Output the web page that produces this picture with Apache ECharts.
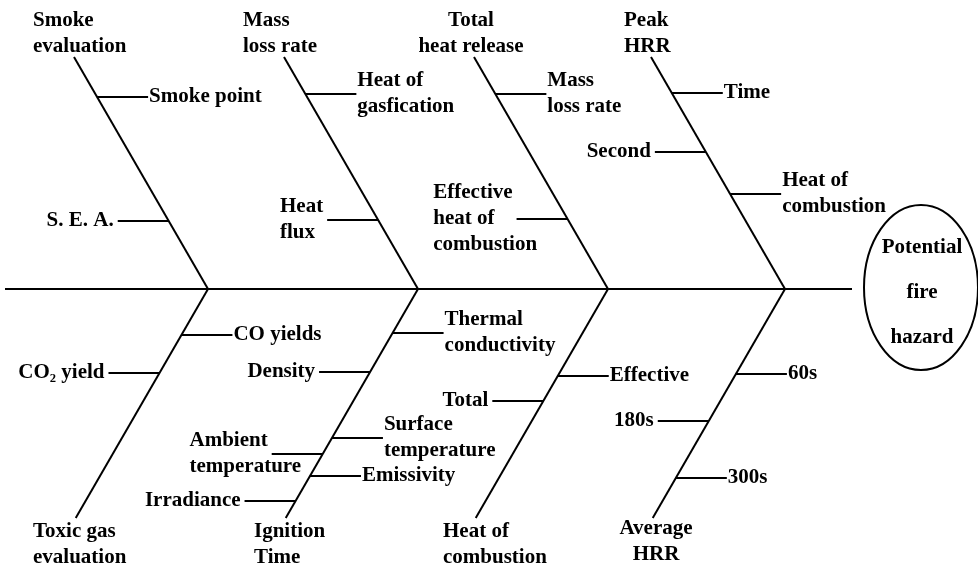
<!DOCTYPE html>
<html>
<head>
<meta charset="utf-8">
<title>Potential fire hazard</title>
<script src="https://cdn.jsdelivr.net/npm/echarts@6/dist/echarts.min.js"></script>
<style>
  html, body { margin: 0; padding: 0; background: #fff; }
  #main { width: 978px; height: 568px; }
</style>
</head>
<body>
<div id="main"></div>
<script>
// fishbone layout, in canvas units (y grows downward)
const spineY = 289
const spineEnds = [5, 852]
const joints = [208, 418, 608, 785]
const tipTopY = 57
const tipBottomY = 518
const slope = 0.5776 // dx per dy of every bone
const twigLength = 51

// main causes at the bone tips
const headsTop = [
  { text: 'Smoke\nevaluation', x: 33, y: 34, align: 'left' },
  { text: 'Mass\nloss rate', x: 243, y: 34, align: 'left' },
  { text: 'Total\nheat release', x: 471, y: 34, align: 'center' },
  { text: 'Peak\nHRR', x: 624, y: 34, align: 'left' }
]
const headsBottom = [
  { text: 'Toxic gas\nevaluation', x: 33, y: 545, align: 'left' },
  { text: 'Ignition\nTime', x: 254, y: 545, align: 'left' },
  { text: 'Heat of\ncombustion', x: 443, y: 545, align: 'left' },
  { text: 'Average\nHRR', x: 656, y: 542, align: 'center' }
]

// sub causes: [label, bone, level y, side of bone]
const causesTop = [
  ['Smoke point', 0, 97, 'right'],
  ['S. E. A.', 0, 221, 'left'],
  ['Heat of\ngasfication', 1, 94, 'right'],
  ['Heat\nflux', 1, 220, 'left'],
  ['Mass\nloss rate', 2, 94, 'right'],
  ['Effective\nheat of\ncombustion', 2, 219, 'left'],
  ['Time', 3, 93, 'right'],
  ['Second', 3, 152, 'left'],
  ['Heat of\ncombustion', 3, 194, 'right']
]
const causesBottom = [
  ['CO yields', 0, 335, 'right'],
  ['CO₂ yield', 0, 373, 'left'],
  ['Thermal\nconductivity', 1, 333, 'right'],
  ['Density', 1, 372, 'left'],
  ['Surface\ntemperature', 1, 438, 'right'],
  ['Ambient\ntemperature', 1, 454, 'left'],
  ['Emissivity', 1, 476, 'right'],
  ['Irradiance', 1, 501, 'left'],
  ['Effective', 2, 376, 'right'],
  ['Total', 2, 401, 'left'],
  ['60s', 3, 374, 'right'],
  ['180s', 3, 421, 'left'],
  ['300s', 3, 478, 'right']
]

const effect = { text: 'Potential\nfire\nhazard', cx: 921, cy: 287.5, rx: 57, ry: 82.5 }

const fontFamily = '"Liberation Serif", "Times New Roman", serif'
const fontSize = 21
const lineHeight = 26

const ctx = document.createElement('canvas').getContext('2d')
ctx.font = `bold ${fontSize}px ${fontFamily}`

// x of a bone at height y
function boneX(bone, y) {
  return joints[bone] - slope * Math.abs(y - spineY)
}

const segments = []
const texts = []

segments.push([[spineEnds[0], spineY], [spineEnds[1], spineY]])
joints.forEach((j, i) => {
  segments.push([[boneX(i, tipTopY), tipTopY], [j, spineY]])
  segments.push([[boneX(i, tipBottomY), tipBottomY], [j, spineY]])
})
headsTop.concat(headsBottom).forEach(h => texts.push(h))

function addCauses(list) {
  list.forEach(([label, bone, y, side]) => {
    const bx = boneX(bone, y)
    if (side === 'right') {
      segments.push([[bx, y], [bx + twigLength, y]])
      texts.push({ text: label, x: bx + twigLength + 1, y: y, align: 'left' })
    } else {
      const start = bx - twigLength
      segments.push([[start, y], [bx, y]])
      if (label.indexOf('\n') >= 0) {
        // block stays left aligned, first row ends near the twig
        const w = ctx.measureText(label.split('\n')[0]).width
        texts.push({ text: label, x: start - 4 - w, y: y, align: 'left' })
      } else {
        texts.push({ text: label, x: start - 4, y: y, align: 'right' })
      }
    }
  })
}
addCauses(causesTop)
addCauses(causesBottom)
texts.push({ text: effect.text, x: effect.cx + 1, y: effect.cy + 5, align: 'center', lineHeight: 45 })

const chart = echarts.init(document.getElementById('main'))
chart.setOption({
  animation: false,
  backgroundColor: '#fff',
  grid: { left: 0, right: 0, top: 0, bottom: 0 },
  xAxis: { type: 'value', min: 0, max: 978, show: false },
  yAxis: { type: 'value', min: 0, max: 568, inverse: true, show: false },
  series: [
    {
      type: 'custom',
      silent: true,
      data: segments.map(s => [s[0][0], s[0][1], s[1][0], s[1][1]]),
      encode: { x: [0, 2], y: [1, 3] },
      renderItem: (params, api) => {
        const p1 = api.coord([api.value(0), api.value(1)])
        const p2 = api.coord([api.value(2), api.value(3)])
        return {
          type: 'line',
          shape: { x1: p1[0], y1: p1[1], x2: p2[0], y2: p2[1] },
          style: { stroke: '#000', lineWidth: 2 }
        }
      }
    },
    {
      type: 'custom',
      silent: true,
      data: [[effect.cx, effect.cy, effect.rx, effect.ry]],
      encode: { x: 0, y: 1 },
      renderItem: (params, api) => {
        const c = api.coord([api.value(0), api.value(1)])
        const s = api.size([api.value(2), api.value(3)])
        return {
          type: 'ellipse',
          shape: { cx: c[0], cy: c[1], rx: s[0], ry: s[1] },
          style: { fill: 'none', stroke: '#000', lineWidth: 2 }
        }
      }
    },
    {
      type: 'custom',
      silent: true,
      data: texts.map(t => [t.x, t.y]),
      encode: { x: 0, y: 1 },
      renderItem: (params, api) => {
        const t = texts[params.dataIndex]
        const p = api.coord([api.value(0), api.value(1)])
        return {
          type: 'text',
          x: p[0],
          y: p[1],
          style: {
            text: t.text,
            fill: '#000',
            fontFamily: fontFamily,
            fontWeight: 'bold',
            fontSize: fontSize,
            lineHeight: t.lineHeight || lineHeight,
            align: t.align,
            verticalAlign: 'middle'
          }
        }
      }
    }
  ]
})
</script>
</body>
</html>
